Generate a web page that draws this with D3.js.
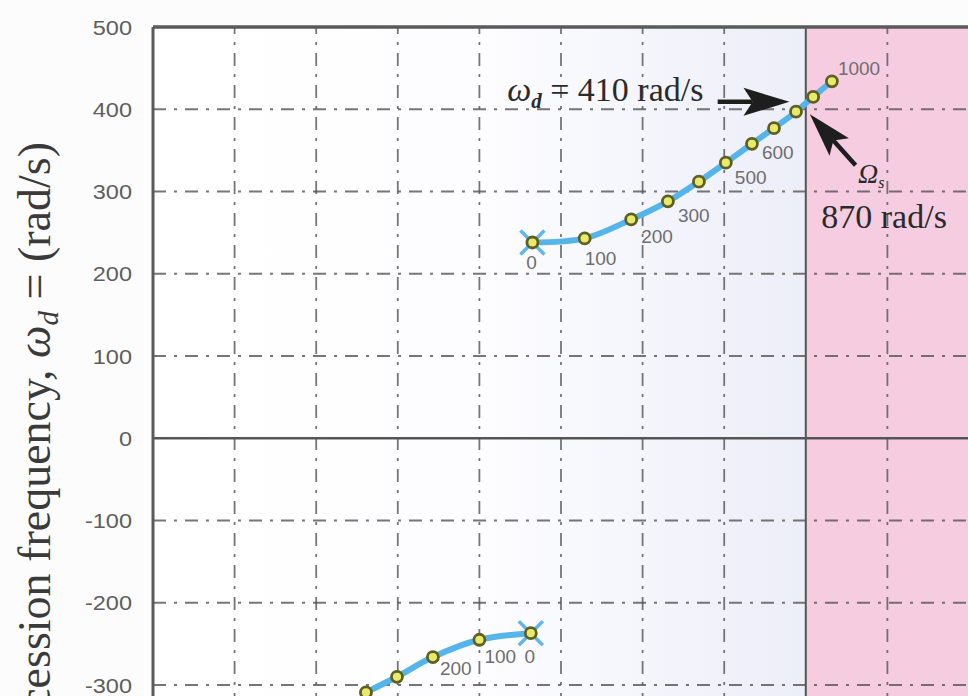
<!DOCTYPE html>
<html>
<head>
<meta charset="utf-8">
<script src="https://cdn.jsdelivr.net/npm/d3@7"></script>
<style>
  body { margin: 0; background: #fff; }
  svg { display: block; }
</style>
</head>
<body>
<svg width="968" height="696"></svg>
<script>
// rotor speed (rpm-ish labels) along each branch
const upperSpeed = [0, 100, 200, 300, 400, 500, 600, 700, 800, 900, 1000];
const upperRe = [-33.5, -27.1, -21.4, -16.9, -13.1, -9.8, -6.6, -3.9, -1.2, 0.9, 3.2];
const upperIm = [238, 243, 266, 288, 312, 335, 358, 377, 397, 415, 434];

const lowerSpeed = [0, 100, 200, 300, 400];
const lowerRe = [-33.7, -40.0, -45.7, -50.1, -53.9];
const lowerIm = [-237, -245, -266, -290, -309];

const upperLabeled = [0, 100, 200, 300, 500, 600, 1000];
const lowerLabeled = [0, 100, 200];

const yTicks = [500, 400, 300, 200, 100, 0, -100, -200, -300];
const xGrid = [-70, -60, -50, -40, -30, -20, -10, 10];

// label offsets (pixels) for the speed numbers
const upperOff = {0: [-1, 27, "middle"], 100: [0, 27, "start"], 200: [10, 24, "start"],
  300: [10, 21, "start"], 500: [9, 21, "start"], 600: [10, 15, "start"], 1000: [6, -6, "start"]};
const lowerOff = {0: [-1, 30, "middle"], 100: [5, 23, "start"], 200: [7, 18, "start"]};

const svg = d3.select("svg");
const pLeft = 153, pTop = 27, pRight = 969, pBottom = 700;

const x = d3.scaleLinear().domain([-80, 20]).range([pLeft, pRight]);
const y = d3.scaleLinear().domain([-300, 500]).range([685, pTop]);

const defs = svg.append("defs");
const grad = defs.append("linearGradient")
    .attr("id", "bg")
    .attr("gradientUnits", "userSpaceOnUse")
    .attr("x1", x(-80)).attr("x2", x(0)).attr("y1", 0).attr("y2", 0);
grad.append("stop").attr("offset", 0).attr("stop-color", "#ffffff");
grad.append("stop").attr("offset", 0.5).attr("stop-color", "#fdfdff");
grad.append("stop").attr("offset", 1).attr("stop-color", "#eceef8");

defs.append("clipPath").attr("id", "plot")
    .append("rect")
    .attr("x", pLeft).attr("y", pTop)
    .attr("width", pRight - pLeft).attr("height", pBottom - pTop);

svg.append("rect").attr("width", 968).attr("height", 696).attr("fill", "#fcfcfc");

const g = svg.append("g").attr("clip-path", "url(#plot)");

g.append("rect")
    .attr("x", pLeft).attr("y", pTop)
    .attr("width", x(0) - pLeft).attr("height", pBottom - pTop)
    .attr("fill", "url(#bg)");
g.append("rect")
    .attr("x", x(0)).attr("y", pTop)
    .attr("width", pRight - x(0)).attr("height", pBottom - pTop)
    .attr("fill", "#f6cde0");

// dash-dot grid
const dash = "13,8,3,8";
g.selectAll("line.hgrid")
    .data(yTicks.filter(d => d !== 0 && d !== 500))
    .enter().append("line")
    .attr("class", "hgrid")
    .attr("x1", pLeft).attr("x2", pRight)
    .attr("y1", d => y(d)).attr("y2", d => y(d))
    .attr("stroke", "#555")
    .attr("stroke-width", 1.8)
    .attr("stroke-dasharray", dash)
    .attr("opacity", 0.8);

g.selectAll("line.vgrid")
    .data(xGrid)
    .enter().append("line")
    .attr("class", "vgrid")
    .attr("x1", d => x(d)).attr("x2", d => x(d))
    .attr("y1", pTop).attr("y2", pBottom)
    .attr("stroke", "#555")
    .attr("stroke-width", 1.8)
    .attr("stroke-dasharray", dash)
    .attr("stroke-dashoffset", 6)
    .attr("opacity", 0.8);

// zero lines
g.append("line")
    .attr("x1", pLeft).attr("x2", pRight)
    .attr("y1", y(0)).attr("y2", y(0))
    .attr("stroke", "#555").attr("stroke-width", 2.5);
g.append("line")
    .attr("x1", x(0)).attr("x2", x(0))
    .attr("y1", pTop).attr("y2", pBottom)
    .attr("stroke", "#555").attr("stroke-width", 2);

// branches
const upper = upperSpeed.map((s, i) => ({s: s, re: upperRe[i], im: upperIm[i]}));
const lower = lowerSpeed.map((s, i) => ({s: s, re: lowerRe[i], im: lowerIm[i]}));

const line = d3.line()
    .x(d => x(d.re))
    .y(d => y(d.im))
    .curve(d3.curveCatmullRom);

[upper, lower].forEach(function (branch) {
    g.append("path")
        .datum(branch)
        .attr("d", line)
        .attr("fill", "none")
        .attr("stroke", "#55b5ea")
        .attr("stroke-width", 6)
        .attr("stroke-linecap", "round");

    // cross at zero speed
    const p0 = branch[0];
    const cx = x(p0.re), cy = y(p0.im);
    g.append("path")
        .attr("d", `M${cx - 12},${cy - 12}L${cx + 12},${cy + 12}M${cx - 12},${cy + 12}L${cx + 12},${cy - 12}`)
        .attr("stroke", "#62b6e8")
        .attr("stroke-width", 3.5)
        .attr("fill", "none");

    g.selectAll(null)
        .data(branch)
        .enter().append("circle")
        .attr("cx", d => x(d.re))
        .attr("cy", d => y(d.im))
        .attr("r", 5.5)
        .attr("fill", "#e8ea6c")
        .attr("stroke", "#5f5f24")
        .attr("stroke-width", 2.8);
});

function speedLabels(branch, labeled, off) {
    g.selectAll(null)
        .data(branch.filter(d => labeled.includes(d.s)))
        .enter().append("text")
        .attr("x", d => x(d.re) + off[d.s][0])
        .attr("y", d => y(d.im) + off[d.s][1])
        .attr("text-anchor", d => off[d.s][2])
        .attr("font-family", "Liberation Sans, Arial, sans-serif")
        .attr("font-size", 19)
        .attr("fill", "#6e6e6e")
        .text(d => d.s);
}
speedLabels(upper, upperLabeled, upperOff);
speedLabels(lower, lowerLabeled, lowerOff);

// frame
svg.append("line")
    .attr("x1", pLeft).attr("x2", pRight)
    .attr("y1", pTop).attr("y2", pTop)
    .attr("stroke", "#5a5a5a").attr("stroke-width", 3.5);
svg.append("line")
    .attr("x1", pLeft).attr("x2", pLeft)
    .attr("y1", pTop).attr("y2", pBottom)
    .attr("stroke", "#5a5a5a").attr("stroke-width", 3);

// y tick labels (slightly wide, like the scanned figure)
svg.selectAll("text.ytick")
    .data(yTicks)
    .enter().append("text")
    .attr("class", "ytick")
    .attr("transform", d => `translate(132,${y(d)}) scale(1.12,1)`)
    .attr("dy", "0.36em")
    .attr("text-anchor", "end")
    .attr("font-family", "Liberation Sans, Arial, sans-serif")
    .attr("font-size", 21)
    .attr("fill", "#5e5e5e")
    .text(d => d);

// y axis title (cropped at the bottom, as in the source)
const title = svg.append("text")
    .attr("transform", "translate(50,142) rotate(-90)")
    .attr("text-anchor", "end")
    .attr("font-family", "Liberation Serif, Times New Roman, serif")
    .attr("font-size", 46)
    .attr("fill", "#3a3a3a");
title.append("tspan").text("Precession frequency, ");
title.append("tspan").attr("font-style", "italic").text("ω");
title.append("tspan").attr("font-style", "italic").attr("font-size", 29).attr("dy", 8).text("d");
title.append("tspan").attr("dy", -8).text(" = (rad/s)");

// arrows
function arrow(x1, y1, x2, y2, headLen, headHalf) {
    const dx = x2 - x1, dy = y2 - y1, L = Math.hypot(dx, dy);
    const ux = dx / L, uy = dy / L, nx = -uy, ny = ux;
    const bx = x2 - ux * headLen, by = y2 - uy * headLen;
    const kx = x2 - ux * headLen * 0.8, ky = y2 - uy * headLen * 0.8;
    svg.append("line")
        .attr("x1", x1).attr("y1", y1).attr("x2", kx).attr("y2", ky)
        .attr("stroke", "#1e1e1e").attr("stroke-width", 4.5);
    svg.append("path")
        .attr("d", `M${x2},${y2}L${bx + nx * headHalf},${by + ny * headHalf}L${kx},${ky}L${bx - nx * headHalf},${by - ny * headHalf}Z`)
        .attr("fill", "#1e1e1e");
}
arrow(x(-10.8), y(409), x(-2.0), y(409), 46, 14);
arrow(x(6.1), y(332), x(0.5), y(394), 44, 13);

// annotations
const serif = "Liberation Serif, Times New Roman, serif";
const a1 = svg.append("text")
    .attr("x", x(-36.6)).attr("y", y(410))
    .attr("font-family", serif)
    .attr("font-size", 34)
    .attr("fill", "#2a2a2a");
a1.append("tspan").attr("font-style", "italic").text("ω");
a1.append("tspan").attr("font-style", "italic").attr("font-weight", "bold").attr("font-size", 21).attr("dy", 7).text("d");
a1.append("tspan").attr("dy", -7).text(" = 410 rad/s");

const a2 = svg.append("text")
    .attr("x", x(6.4)).attr("y", y(310))
    .attr("font-family", serif)
    .attr("font-size", 28)
    .attr("fill", "#2a2a2a");
a2.append("tspan").attr("font-style", "italic").text("Ω");
a2.append("tspan").attr("font-style", "italic").attr("font-size", 16).attr("dy", 5).text("s");

svg.append("text")
    .attr("x", x(1.9)).attr("y", y(256))
    .attr("font-family", serif)
    .attr("font-size", 34)
    .attr("fill", "#2a2a2a")
    .text("870 rad/s");
</script>
</body>
</html>
